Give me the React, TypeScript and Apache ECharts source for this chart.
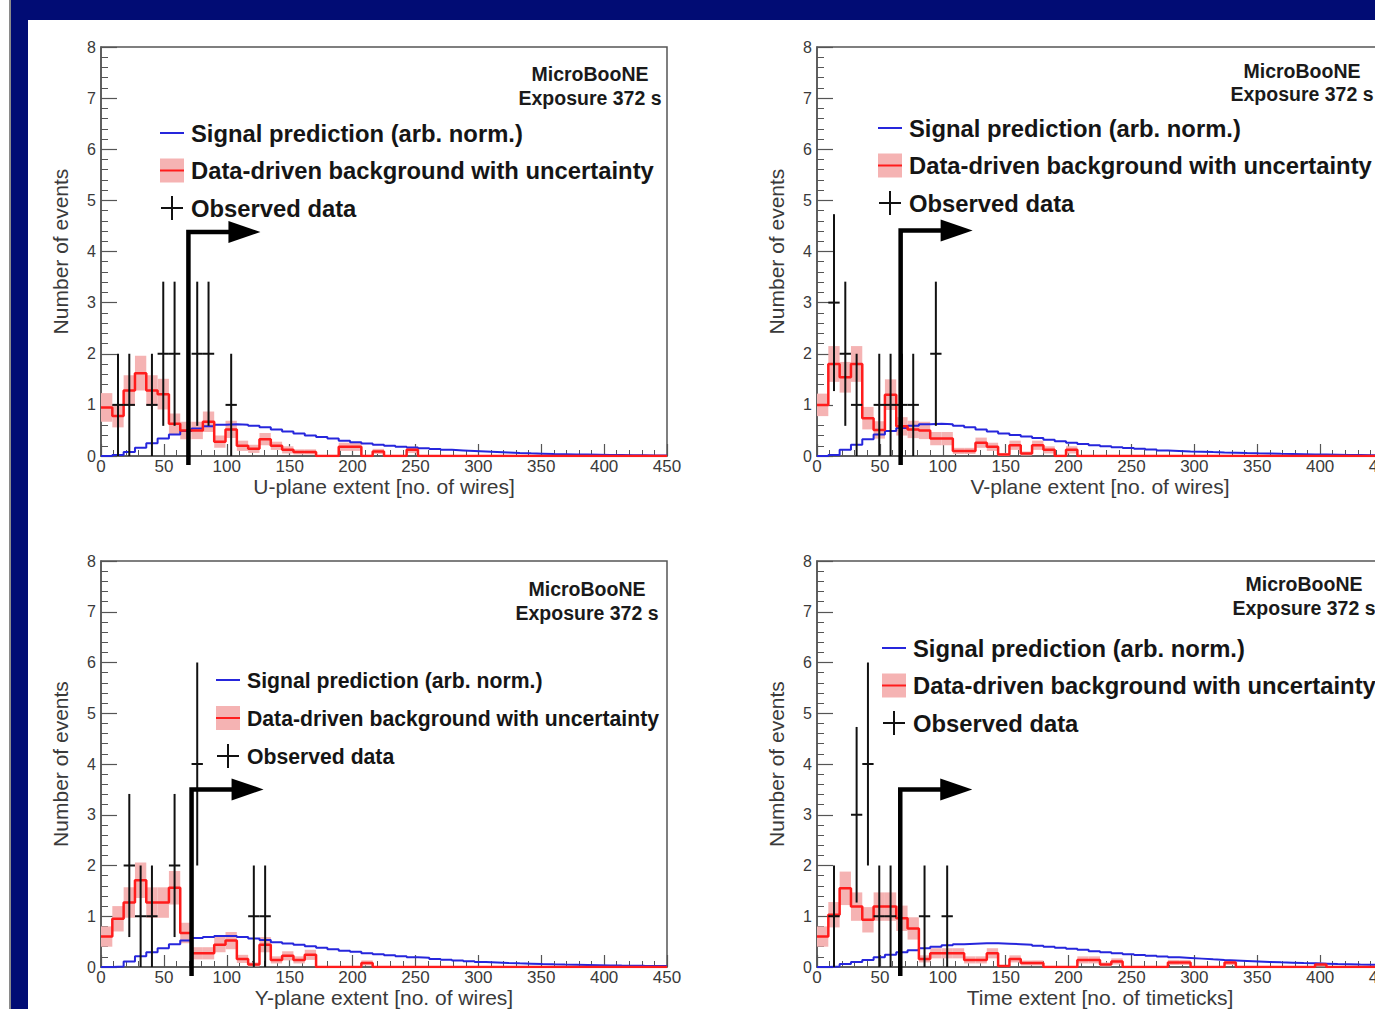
import React, { useEffect, useRef } from "react";
import * as echarts from "echarts";

// ---------- data ----------
const BIN = 9; // bin width (50 bins over 0..450)
const X_MIN = 0;
const X_MAX = 450;
const X_STEP = 50;
const Y_MIN = 0;
const Y_MAX = 8;
const Y_STEP = 1;

// U-plane
const uBg = [0.95, 0.78, 1.28, 1.62, 1.28, 1.21, 0.63, 0.5, 0.5, 0.67, 0.28, 0.52, 0.2, 0.14, 0.33, 0.2, 0.12, 0.08, 0.08, 0, 0, 0.18, 0.18, 0, 0.09, 0, 0, 0.12, 0, 0, 0, 0, 0, 0, 0, 0, 0, 0, 0, 0, 0, 0, 0, 0, 0, 0, 0, 0, 0, 0];
const uBgErr = [0.28, 0.22, 0.3, 0.34, 0.3, 0.3, 0.2, 0.17, 0.17, 0.2, 0.12, 0.17, 0.1, 0.08, 0.12, 0.08, 0.07, 0.05, 0.05, 0, 0, 0.08, 0.08, 0, 0.05, 0, 0, 0.06, 0, 0, 0, 0, 0, 0, 0, 0, 0, 0, 0, 0, 0, 0, 0, 0, 0, 0, 0, 0, 0, 0];
const uSig = [0, 0.02, 0.08, 0.16, 0.25, 0.34, 0.42, 0.49, 0.54, 0.58, 0.61, 0.62, 0.61, 0.59, 0.56, 0.52, 0.48, 0.44, 0.4, 0.37, 0.34, 0.3, 0.27, 0.245, 0.22, 0.2, 0.18, 0.165, 0.15, 0.135, 0.12, 0.11, 0.1, 0.09, 0.08, 0.07, 0.06, 0.052, 0.046, 0.04, 0.035, 0.03, 0.027, 0.024, 0.021, 0.018, 0.015, 0.013, 0.011, 0.01];
const uDataBins = [1, 2, 4, 5, 6, 8, 9, 11];
const uDataCounts = [1, 1, 1, 2, 2, 2, 2, 1];
const uDataErr = [1, 1, 1, 1.41, 1.41, 1.41, 1.41, 1];
const uCut = [69.5, 4.38];

// V-plane
const vBg = [1.0, 1.8, 1.54, 1.8, 0.74, 0.51, 1.2, 0.58, 0.52, 0.5, 0.34, 0.34, 0.1, 0.1, 0.26, 0.18, 0.03, 0.21, 0.05, 0.21, 0.12, 0, 0.12, 0, 0, 0, 0, 0, 0, 0, 0, 0, 0, 0, 0, 0, 0, 0, 0, 0, 0, 0, 0, 0, 0, 0, 0, 0, 0, 0];
const vBgErr = [0.22, 0.35, 0.3, 0.35, 0.22, 0.17, 0.3, 0.18, 0.17, 0.17, 0.13, 0.13, 0.06, 0.06, 0.1, 0.08, 0.03, 0.09, 0.04, 0.09, 0.07, 0, 0.07, 0, 0, 0, 0, 0, 0, 0, 0, 0, 0, 0, 0, 0, 0, 0, 0, 0, 0, 0, 0, 0, 0, 0, 0, 0, 0, 0];
const vSig = [0, 0.02, 0.12, 0.22, 0.33, 0.42, 0.49, 0.55, 0.59, 0.62, 0.63, 0.62, 0.59, 0.56, 0.52, 0.48, 0.44, 0.41, 0.38, 0.35, 0.32, 0.29, 0.26, 0.235, 0.21, 0.19, 0.17, 0.155, 0.14, 0.125, 0.11, 0.1, 0.09, 0.083, 0.076, 0.07, 0.065, 0.058, 0.052, 0.047, 0.042, 0.038, 0.034, 0.03, 0.027, 0.024, 0.021, 0.019, 0.017, 0.015];
const vDataBins = [1, 2, 3, 5, 6, 7, 8, 10];
const vDataCounts = [3, 2, 1, 1, 1, 1, 1, 2];
const vDataErr = [1.73, 1.41, 1, 1, 1, 1, 1, 1.41];
const vCut = [66.5, 4.41];

// Y-plane
const yBg = [0.6, 0.95, 1.27, 1.71, 1.27, 1.27, 1.56, 0.67, 0.27, 0.27, 0.44, 0.52, 0.16, 0.05, 0.44, 0.14, 0.22, 0.14, 0.24, 0, 0, 0, 0, 0.08, 0, 0, 0, 0, 0, 0, 0, 0, 0, 0, 0, 0, 0, 0, 0, 0, 0, 0, 0, 0, 0, 0, 0, 0, 0, 0];
const yBgErr = [0.2, 0.25, 0.3, 0.35, 0.3, 0.3, 0.33, 0.2, 0.12, 0.12, 0.15, 0.17, 0.08, 0.04, 0.15, 0.07, 0.09, 0.07, 0.1, 0, 0, 0, 0, 0.05, 0, 0, 0, 0, 0, 0, 0, 0, 0, 0, 0, 0, 0, 0, 0, 0, 0, 0, 0, 0, 0, 0, 0, 0, 0, 0];
const ySig = [0, 0.01, 0.11, 0.21, 0.29, 0.37, 0.45, 0.52, 0.57, 0.59, 0.61, 0.61, 0.59, 0.56, 0.53, 0.49, 0.465, 0.44, 0.41, 0.38, 0.35, 0.32, 0.3, 0.27, 0.25, 0.23, 0.21, 0.19, 0.18, 0.16, 0.145, 0.13, 0.115, 0.1, 0.09, 0.08, 0.072, 0.065, 0.058, 0.052, 0.047, 0.043, 0.039, 0.035, 0.031, 0.028, 0.026, 0.023, 0.021, 0.02];
const yDataBins = [2, 3, 4, 6, 8, 13, 14];
const yDataCounts = [2, 1, 1, 2, 4, 1, 1];
const yDataErr = [1.41, 1, 1, 1.41, 2, 1, 1];
const yCut = [72, 3.5];

// Time extent
const tBg = [0.6, 1.03, 1.55, 1.19, 0.93, 1.19, 1.19, 0.96, 0.76, 0.16, 0.27, 0.27, 0.27, 0.14, 0.14, 0.27, 0.02, 0.16, 0.08, 0.08, 0, 0, 0, 0.14, 0.14, 0.05, 0.11, 0, 0, 0, 0, 0.09, 0.09, 0, 0, 0, 0.09, 0, 0, 0, 0, 0, 0, 0, 0.05, 0, 0, 0, 0, 0];
const tBgErr = [0.2, 0.25, 0.33, 0.28, 0.25, 0.28, 0.28, 0.25, 0.22, 0.07, 0.1, 0.1, 0.1, 0.07, 0.07, 0.1, 0.02, 0.07, 0.05, 0.05, 0, 0, 0, 0.07, 0.07, 0.04, 0.06, 0, 0, 0, 0, 0.05, 0.05, 0, 0, 0, 0.05, 0, 0, 0, 0, 0, 0, 0, 0.04, 0, 0, 0, 0, 0];
const tSig = [0, 0.01, 0.06, 0.1, 0.14, 0.19, 0.24, 0.29, 0.33, 0.37, 0.4, 0.43, 0.45, 0.46, 0.47, 0.47, 0.46, 0.45, 0.44, 0.42, 0.4, 0.38, 0.36, 0.34, 0.31, 0.29, 0.27, 0.25, 0.235, 0.22, 0.205, 0.19, 0.178, 0.165, 0.152, 0.14, 0.13, 0.12, 0.11, 0.1, 0.092, 0.085, 0.078, 0.072, 0.066, 0.06, 0.055, 0.05, 0.046, 0.043];
const tDataBins = [1, 3, 4, 5, 6, 9, 11];
const tDataCounts = [1, 3, 4, 1, 1, 1, 1];
const tDataErr = [1, 1.73, 2, 1, 1, 1, 1];
const tCut = [66.2, 3.5];

const X_NAMES = ["U-plane extent [no. of wires]", "V-plane extent [no. of wires]", "Y-plane extent [no. of wires]", "Time extent [no. of timeticks]"];
const Y_NAME = "Number of events";
const LEGEND_TEXTS = ["Signal prediction (arb. norm.)", "Data-driven background with uncertainty", "Observed data"];
const LABEL_TEXTS = ["MicroBooNE", "Exposure 372 s"];

// ---------- layout ----------
const PANELS = [
  { bg: uBg, err: uBgErr, sig: uSig, dB: uDataBins, dC: uDataCounts, dE: uDataErr, cut: uCut, grid: { left: 101, top: 47, width: 566, height: 409 }, leg: { x: 160, y: 133, dy: 37.5, fs: 23.8 }, lab: { cx: 590, y: 74, dy: 24 } },
  { bg: vBg, err: vBgErr, sig: vSig, dB: vDataBins, dC: vDataCounts, dE: vDataErr, cut: vCut, grid: { left: 817, top: 47, width: 566, height: 409 }, leg: { x: 878, y: 128, dy: 37.5, fs: 23.8 }, lab: { cx: 1302, y: 71, dy: 23 } },
  { bg: yBg, err: yBgErr, sig: ySig, dB: yDataBins, dC: yDataCounts, dE: yDataErr, cut: yCut, grid: { left: 101, top: 561, width: 566, height: 408 }, leg: { x: 216, y: 680, dy: 38, fs: 21.2 }, lab: { cx: 587, y: 589, dy: 24 } },
  { bg: tBg, err: tBgErr, sig: tSig, dB: tDataBins, dC: tDataCounts, dE: tDataErr, cut: tCut, grid: { left: 817, top: 561, width: 566, height: 408 }, leg: { x: 882, y: 648, dy: 37.5, fs: 23.8 }, lab: { cx: 1304, y: 584, dy: 24 } },
];

const FONT = '"Liberation Sans", Arial, Helvetica, sans-serif';
const AXIS_COLOR = "#555";
const TEXT_COLOR = "#3a3a3a";
const BAND_COLOR = "#f5b3b3";
const RED = "#ff1c1c";
const BLUE = "#2626dc";

function stepData(arr: number[]) {
  const pts = arr.map((v, k) => [k * BIN, v]);
  pts.push([X_MAX, arr[arr.length - 1]]);
  return pts;
}

function buildOption() {
  const grid: any[] = [];
  const xAxis: any[] = [];
  const yAxis: any[] = [];
  const series: any[] = [];
  const graphics: any[] = [];

  PANELS.forEach((p, i) => {
    grid.push({ ...p.grid, show: true, borderColor: AXIS_COLOR, borderWidth: 1.5, backgroundColor: "transparent", containLabel: false });
    xAxis.push({
      type: "value", gridIndex: i, min: X_MIN, max: X_MAX, interval: X_STEP,
      axisLine: { show: true, onZero: false, lineStyle: { color: AXIS_COLOR, width: 1.5 } },
      axisTick: { show: true, inside: true, length: 12, lineStyle: { color: AXIS_COLOR, width: 1.2 } },
      minorTick: { show: true, splitNumber: 5, length: 6, lineStyle: { color: AXIS_COLOR, width: 1 } },
      splitLine: { show: false },
      axisLabel: { fontSize: 17, color: TEXT_COLOR, margin: 2, fontFamily: FONT, showMinLabel: true, showMaxLabel: true },
      name: X_NAMES[i], nameLocation: "middle", nameGap: 20,
      nameTextStyle: { fontSize: 21, color: TEXT_COLOR, fontFamily: FONT },
    });
    yAxis.push({
      type: "value", gridIndex: i, min: Y_MIN, max: Y_MAX, interval: Y_STEP,
      axisLine: { show: true, onZero: false, lineStyle: { color: AXIS_COLOR, width: 1.5 } },
      axisTick: { show: true, inside: true, length: 16, lineStyle: { color: AXIS_COLOR, width: 1.2 } },
      minorTick: { show: true, splitNumber: 5, length: 7, lineStyle: { color: AXIS_COLOR, width: 1 } },
      splitLine: { show: false },
      axisLabel: { fontSize: 16, color: TEXT_COLOR, margin: 5, fontFamily: FONT },
      name: Y_NAME, nameLocation: "middle", nameGap: 30, nameRotate: 90,
      nameTextStyle: { fontSize: 21, color: TEXT_COLOR, fontFamily: FONT },
    });

    // uncertainty band
    const band = p.bg
      .map((v, k) => [k * BIN, (k + 1) * BIN, Math.max(0, v - p.err[k]), v + p.err[k], p.err[k]])
      .filter((d) => d[4] > 0);
    series.push({
      type: "custom", xAxisIndex: i, yAxisIndex: i, z: 1, silent: true,
      data: band,
      renderItem: (_params: any, api: any) => {
        const a = api.coord([api.value(0), api.value(3)]);
        const b = api.coord([api.value(1), api.value(2)]);
        return { type: "rect", shape: { x: a[0], y: a[1], width: b[0] - a[0], height: b[1] - a[1] }, style: { fill: BAND_COLOR } };
      },
    });
    // signal
    series.push({
      type: "line", xAxisIndex: i, yAxisIndex: i, z: 3, step: "end", symbol: "none", silent: true,
      data: stepData(p.sig), lineStyle: { color: BLUE, width: 2 },
    });
    // background
    series.push({
      type: "line", xAxisIndex: i, yAxisIndex: i, z: 4, step: "end", symbol: "none", silent: true,
      data: stepData(p.bg), lineStyle: { color: RED, width: 2.5 },
    });
    // observed data
    series.push({
      type: "custom", xAxisIndex: i, yAxisIndex: i, z: 5, silent: true,
      data: p.dB.map((b, k) => [(b + 0.5) * BIN, p.dC[k], p.dE[k]]),
      renderItem: (_params: any, api: any) => {
        const x = api.value(0), v = api.value(1), e = api.value(2);
        const c = api.coord([x, v]);
        const top = api.coord([x, v + e]);
        const bot = api.coord([x, Math.max(0, v - e)]);
        const l = api.coord([x - BIN / 2, v]);
        const r = api.coord([x + BIN / 2, v]);
        return {
          type: "group",
          children: [
            { type: "line", shape: { x1: c[0], y1: top[1], x2: c[0], y2: bot[1] }, style: { stroke: "#111", lineWidth: 2 } },
            { type: "line", shape: { x1: l[0], y1: c[1], x2: r[0], y2: c[1] }, style: { stroke: "#111", lineWidth: 2 } },
          ],
        };
      },
    });
    // cut arrow
    series.push({
      type: "custom", xAxisIndex: i, yAxisIndex: i, z: 6, silent: true, clip: false,
      data: [p.cut],
      renderItem: (_params: any, api: any) => {
        const b = api.coord([api.value(0), 0]);
        const t = api.coord([api.value(0), api.value(1)]);
        return {
          type: "group",
          children: [
            { type: "polyline", shape: { points: [[b[0], b[1] + 9], [t[0], t[1]], [t[0] + 44, t[1]]] }, style: { stroke: "#000", lineWidth: 4.5, fill: "none", lineJoin: "miter" } },
            { type: "polygon", shape: { points: [[t[0] + 40, t[1] - 11], [t[0] + 72, t[1]], [t[0] + 40, t[1] + 11]] }, style: { fill: "#000" } },
          ],
        };
      },
    });

    // legend
    const L = p.leg;
    const tx = L.x + 31;
    const font = `bold ${L.fs}px ${FONT}`;
    graphics.push(
      { type: "line", z: 10, shape: { x1: L.x, y1: L.y, x2: L.x + 24, y2: L.y }, style: { stroke: BLUE, lineWidth: 2 } },
      { type: "text", z: 10, x: tx, y: L.y, style: { text: LEGEND_TEXTS[0], font, fill: "#151515", verticalAlign: "middle", align: "left" } },
      { type: "rect", z: 10, shape: { x: L.x, y: L.y + L.dy - 12, width: 24, height: 24 }, style: { fill: BAND_COLOR } },
      { type: "line", z: 10, shape: { x1: L.x, y1: L.y + L.dy, x2: L.x + 24, y2: L.y + L.dy }, style: { stroke: RED, lineWidth: 2 } },
      { type: "text", z: 10, x: tx, y: L.y + L.dy, style: { text: LEGEND_TEXTS[1], font, fill: "#151515", verticalAlign: "middle", align: "left" } },
      { type: "line", z: 10, shape: { x1: L.x + 12, y1: L.y + 2 * L.dy - 12, x2: L.x + 12, y2: L.y + 2 * L.dy + 12 }, style: { stroke: "#111", lineWidth: 2 } },
      { type: "line", z: 10, shape: { x1: L.x + 1, y1: L.y + 2 * L.dy, x2: L.x + 23, y2: L.y + 2 * L.dy }, style: { stroke: "#111", lineWidth: 2 } },
      { type: "text", z: 10, x: tx, y: L.y + 2 * L.dy, style: { text: LEGEND_TEXTS[2], font, fill: "#151515", verticalAlign: "middle", align: "left" } },
    );
    const B = p.lab;
    graphics.push(
      { type: "text", z: 10, x: B.cx, y: B.y, style: { text: LABEL_TEXTS[0], font: `bold 19.5px ${FONT}`, fill: "#1a1a1a", verticalAlign: "middle", align: "center" } },
      { type: "text", z: 10, x: B.cx, y: B.y + B.dy, style: { text: LABEL_TEXTS[1], font: `bold 19.5px ${FONT}`, fill: "#1a1a1a", verticalAlign: "middle", align: "center" } },
    );
  });

  return {
    animation: false,
    backgroundColor: "transparent",
    textStyle: { fontFamily: FONT },
    grid, xAxis, yAxis, series,
    graphic: { elements: graphics },
  };
}

export default function App() {
  const ref = useRef<HTMLDivElement>(null);
  useEffect(() => {
    if (!ref.current) return;
    const chart = echarts.init(ref.current, undefined, { renderer: "svg" });
    chart.setOption(buildOption() as any);
    return () => chart.dispose();
  }, []);
  return (
    <div style={{ position: "absolute", left: 0, top: 0, width: 1375, height: 1009, background: "#ffffff", overflow: "hidden" }}>
      <div style={{ position: "absolute", left: 9, top: 0, width: 2, height: 1009, background: "#8a8a8a" }} />
      <div style={{ position: "absolute", left: 11, top: 0, width: 1364, height: 1009, background: "#010c74" }} />
      <div style={{ position: "absolute", left: 28, top: 20, width: 1347, height: 989, background: "#ffffff" }} />
      <div ref={ref} style={{ position: "absolute", left: 0, top: 0, width: 1420, height: 1009 }} />
    </div>
  );
}
